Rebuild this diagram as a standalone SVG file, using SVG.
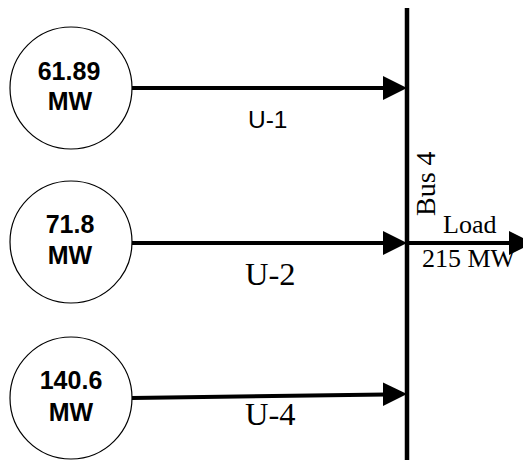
<svg xmlns="http://www.w3.org/2000/svg" width="523" height="466" viewBox="0 0 523 466">
<style>
.gen{fill:#fff;stroke:#000;stroke-width:1.2}
.val{font-family:"Liberation Sans",Arial,sans-serif;font-weight:bold;font-size:25px;text-anchor:middle;fill:#000}
.conn{stroke:#000;stroke-width:4;fill:none}
.head{fill:#000}
.times{font-family:"Liberation Serif","Times New Roman",serif;fill:#000}
.arial{font-family:"Liberation Sans",Arial,sans-serif;fill:#000}
</style>
<rect width="523" height="466" fill="#fff"/>
<g id="gen1">
<circle class="gen" cx="71" cy="88" r="61"/>
<text class="val" x="69" y="80">61.89</text>
<text class="val" x="70" y="110">MW</text>
</g>
<g id="gen2">
<circle class="gen" cx="71" cy="242" r="61"/>
<text class="val" x="70" y="233">71.8</text>
<text class="val" x="70" y="264">MW</text>
</g>
<g id="gen3">
<circle class="gen" cx="71" cy="398" r="61"/>
<text class="val" x="71" y="389">140.6</text>
<text class="val" x="71" y="421">MW</text>
</g>
<g id="bus4">
<line x1="407" y1="8" x2="407" y2="460" stroke="#000" stroke-width="4.5"/>
<text class="times" font-size="28" transform="translate(435,216) rotate(-90)">Bus 4</text>
</g>
<g id="connectors">
<line class="conn" x1="132" y1="88" x2="386" y2="88"/>
<polygon class="head" points="383,76 407,88 383,100"/>
<line class="conn" x1="132" y1="243" x2="386" y2="243"/>
<polygon class="head" points="383,231 407,243 383,255"/>
<line class="conn" x1="132" y1="398" x2="386" y2="394.5"/>
<polygon class="head" points="383,382.5 407,394 383,406"/>
<line class="conn" x1="407" y1="243" x2="512" y2="243"/>
<polygon class="head" points="509,231 533,243 509,255"/>
</g>
<g id="labels">
<text class="arial" font-size="24.5" x="248" y="128">U-1</text>
<text class="times" font-size="32.5" x="245" y="285">U-2</text>
<text class="times" font-size="32.5" x="245" y="425">U-4</text>
<text class="times" font-size="26" x="443" y="233">Load</text>
<text class="times" font-size="26" x="422" y="267">215 MW</text>
</g>
</svg>
